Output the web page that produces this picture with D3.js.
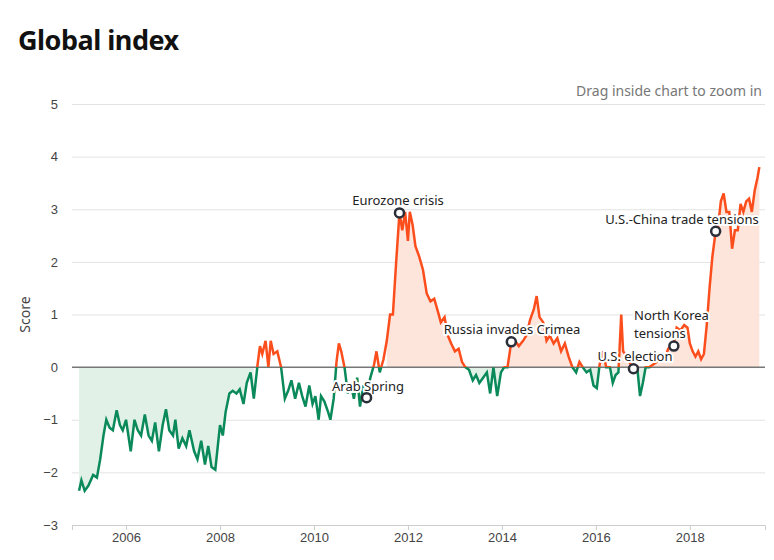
<!doctype html>
<html lang="en">
<head>
<meta charset="UTF-8">
<title>Global index</title>
<style>
  body { margin: 0; font-family: "Noto Sans", sans-serif; background: #fff; }
</style>
</head>
<body>
<div class="container"></div>
<script src="https://d3js.org/d3.v7.min.js"></script>
<script>
  const W = 774, H = 560;
  const M = { top: 104, right: 9, bottom: 35, left: 72 };

  // [year, score]
  const data = [
    [2005.0,-2.35],[2005.05,-2.15],[2005.12,-2.35],[2005.2,-2.25],[2005.3,-2.05],[2005.38,-2.1],[2005.45,-1.75],
    [2005.52,-1.3],[2005.58,-1.0],[2005.65,-1.15],[2005.72,-1.2],[2005.8,-0.82],[2005.87,-1.1],[2005.93,-1.2],
    [2006.0,-1.0],[2006.05,-1.3],[2006.1,-1.6],[2006.18,-1.0],[2006.25,-1.2],[2006.32,-1.3],[2006.4,-0.9],
    [2006.48,-1.3],[2006.55,-1.4],[2006.62,-1.05],[2006.7,-1.6],[2006.78,-1.1],[2006.85,-0.8],[2006.92,-1.2],
    [2007.0,-1.3],[2007.05,-1.0],[2007.12,-1.55],[2007.2,-1.35],[2007.28,-1.5],[2007.35,-1.2],[2007.45,-1.6],
    [2007.52,-1.75],[2007.6,-1.4],[2007.68,-1.85],[2007.75,-1.5],[2007.82,-1.9],[2007.9,-1.95],[2008.0,-1.1],
    [2008.06,-1.3],[2008.12,-0.85],[2008.2,-0.5],[2008.27,-0.45],[2008.35,-0.5],[2008.42,-0.42],[2008.5,-0.7],
    [2008.57,-0.3],[2008.65,-0.1],[2008.72,-0.6],[2008.8,0.05],[2008.85,0.4],[2008.9,0.25],[2008.97,0.5],
    [2009.03,0.0],[2009.08,0.5],[2009.14,0.25],[2009.22,0.3],[2009.3,0.0],[2009.38,-0.6],[2009.45,-0.45],
    [2009.52,-0.25],[2009.6,-0.6],[2009.68,-0.3],[2009.75,-0.55],[2009.82,-0.75],[2009.9,-0.35],[2009.97,-0.7],
    [2010.03,-0.55],[2010.1,-1.0],[2010.15,-0.55],[2010.22,-0.65],[2010.3,-0.85],[2010.35,-1.0],[2010.42,-0.6],
    [2010.48,0.1],[2010.53,0.45],[2010.58,0.3],[2010.65,0.0],[2010.72,-0.5],[2010.78,-0.3],[2010.85,-0.6],
    [2010.92,-0.2],[2010.98,-0.75],[2011.05,-0.35],[2011.12,-0.55],[2011.2,-0.2],[2011.28,0.05],[2011.33,0.3],
    [2011.4,-0.1],[2011.48,0.15],[2011.55,0.5],[2011.62,1.0],[2011.68,1.0],[2011.75,2.0],[2011.82,2.93],
    [2011.88,2.6],[2011.94,2.95],[2012.0,2.4],[2012.04,2.95],[2012.1,2.7],[2012.16,2.3],[2012.24,2.1],[2012.32,1.85],
    [2012.4,1.4],[2012.48,1.25],[2012.56,1.3],[2012.64,1.05],[2012.7,0.85],[2012.78,0.95],[2012.85,0.6],[2012.92,0.45],
    [2013.0,0.3],[2013.08,0.35],[2013.15,0.1],[2013.22,0.0],[2013.3,-0.05],[2013.38,-0.25],[2013.45,-0.15],
    [2013.52,-0.3],[2013.6,-0.2],[2013.68,-0.1],[2013.75,-0.5],[2013.82,0.0],[2013.9,-0.55],[2013.98,-0.1],
    [2014.05,0.0],[2014.12,0.0],[2014.2,0.48],[2014.28,0.5],[2014.36,0.4],[2014.45,0.5],[2014.52,0.6],
    [2014.6,0.9],[2014.68,1.1],[2014.74,1.35],[2014.8,0.95],[2014.88,0.85],[2014.95,0.5],[2015.02,0.6],
    [2015.1,0.45],[2015.18,0.55],[2015.26,0.3],[2015.34,0.45],[2015.42,0.2],[2015.5,0.0],[2015.58,-0.1],
    [2015.65,0.1],[2015.72,0.0],[2015.8,-0.1],[2015.88,-0.05],[2015.95,-0.35],[2016.02,-0.4],[2016.08,0.05],
    [2016.15,0.3],[2016.22,0.0],[2016.3,0.0],[2016.36,-0.3],[2016.42,-0.15],[2016.48,-0.1],[2016.54,1.0],
    [2016.58,0.3],[2016.66,0.2],[2016.74,0.05],[2016.8,-0.03],[2016.88,0.0],[2016.94,-0.55],[2017.0,-0.3],
    [2017.06,0.0],[2017.14,0.0],[2017.22,0.05],[2017.3,0.1],[2017.38,0.2],[2017.46,0.15],[2017.54,0.35],
    [2017.6,0.4],[2017.66,0.45],[2017.72,0.75],[2017.8,0.7],[2017.88,0.8],[2017.95,0.75],[2018.0,0.45],
    [2018.06,0.3],[2018.12,0.2],[2018.18,0.3],[2018.24,0.15],[2018.3,0.25],[2018.36,0.8],[2018.42,1.5],
    [2018.48,2.1],[2018.55,2.58],[2018.6,2.65],[2018.66,3.15],[2018.72,3.3],[2018.78,2.95],[2018.84,2.95],
    [2018.9,2.25],[2018.96,2.6],[2019.02,2.6],[2019.08,3.1],[2019.14,2.95],[2019.2,3.15],[2019.26,3.2],
    [2019.32,2.95],[2019.38,3.35],[2019.44,3.6],[2019.48,3.8]
  ];

  const events = [
    { t: 2011.82, v: 2.93, label: ['Eurozone crisis'], lx: 398, ly: 205, anchor: 'middle' },
    { t: 2011.12, v: -0.58, label: ['Arab Spring'], lx: 368, ly: 391, anchor: 'middle' },
    { t: 2014.2, v: 0.48, label: ['Russia invades Crimea'], lx: 512, ly: 334, anchor: 'middle' },
    { t: 2016.8, v: -0.03, label: ['U.S. election'], lx: 635, ly: 361, anchor: 'middle' },
    { t: 2017.66, v: 0.4, label: ['North Korea', 'tensions'], lx: 634, ly: 320, anchor: 'start' },
    { t: 2018.55, v: 2.58, label: ['U.S.-China trade tensions'], lx: 682, ly: 224, anchor: 'middle' }
  ];

  // shaded periods
  const shaded = [[2005.0, 2008.78], [2011.55, 2019.48]];

  const RED = '#fc4e1c', GREEN = '#0a8a5a';

  const svg = d3.select('.container').append('svg').attr('width', W).attr('height', H);

  const x = d3.scaleLinear().domain([2004.85, 2019.6]).range([M.left, W - M.right]);
  const y = d3.scaleLinear().domain([-3, 5]).range([H - M.bottom, M.top]);

  svg.append('text').attr('x', 18).attr('y', 50).text('Global index')
    .style('font-size', '27px').style('font-weight', 'bold').style('letter-spacing', '-0.5px').attr('fill', '#111');
  svg.append('text').attr('x', W - 12).attr('y', 96).attr('text-anchor', 'end')
    .text('Drag inside chart to zoom in').style('font-size', '14px').attr('fill', '#777');

  // grid + y axis
  const yAxis = svg.append('g').attr('transform', `translate(${M.left},0)`)
    .call(d3.axisLeft(y).ticks(8).tickSize(-(W - M.right - M.left)).tickPadding(14));
  yAxis.select('.domain').remove();
  yAxis.selectAll('line').attr('stroke', '#e3e3e3');
  yAxis.selectAll('text').style('font-size', '13px').attr('fill', '#444');

  const xAxis = svg.append('g').attr('transform', `translate(0,${H - M.bottom})`)
    .call(d3.axisBottom(x).tickValues([2006, 2008, 2010, 2012, 2014, 2016, 2018]).tickFormat(d3.format('d')).tickSize(5));
  xAxis.select('.domain').attr('stroke', '#ccc');
  xAxis.selectAll('line').attr('stroke', '#ccc');
  xAxis.selectAll('text').style('font-size', '13px').attr('fill', '#444');

  svg.append('text').attr('transform', `translate(30,${y(1)}) rotate(-90)`).attr('text-anchor', 'middle')
    .text('Score').style('font-size', '14px').attr('fill', '#444');

  // clips for sign
  const defs = svg.append('defs');
  defs.append('clipPath').attr('id', 'pos').append('rect')
    .attr('x', 0).attr('y', 0).attr('width', W).attr('height', y(0));
  defs.append('clipPath').attr('id', 'neg').append('rect')
    .attr('x', 0).attr('y', y(0)).attr('width', W).attr('height', H - y(0));

  const area = d3.area().x(d => x(d[0])).y0(y(0)).y1(d => y(d[1]));
  shaded.forEach(([a, b]) => {
    const seg = data.filter(d => d[0] >= a && d[0] <= b);
    svg.append('path').datum(seg).attr('d', area).attr('fill', '#fde5dc').attr('clip-path', 'url(#pos)');
    svg.append('path').datum(seg).attr('d', area).attr('fill', '#e2f1e8').attr('clip-path', 'url(#neg)');
  });

  svg.append('line').attr('x1', M.left).attr('x2', W - M.right).attr('y1', y(0)).attr('y2', y(0))
    .attr('stroke', '#777').attr('stroke-width', 1.5);

  const line = d3.line().x(d => x(d[0])).y(d => y(d[1]));
  svg.append('path').datum(data).attr('d', line).attr('fill', 'none').attr('stroke', RED)
    .attr('stroke-width', 2.5).attr('clip-path', 'url(#pos)');
  svg.append('path').datum(data).attr('d', line).attr('fill', 'none').attr('stroke', GREEN)
    .attr('stroke-width', 2.5).attr('clip-path', 'url(#neg)');

  // annotations
  const ev = svg.append('g');
  ev.selectAll('circle').data(events).enter().append('circle')
    .attr('cx', d => x(d.t)).attr('cy', d => y(d.v)).attr('r', 4.5)
    .attr('fill', '#fff').attr('stroke', '#2b2f3a').attr('stroke-width', 2.5);
  events.forEach(d => {
    d.label.forEach((s, i) => {
      const t = ev.append('text').attr('x', d.lx).attr('y', d.ly + i * 18).attr('text-anchor', d.anchor)
        .text(s).style('font-size', '13px');
      t.clone(false).text(s).lower()
        .attr('fill', 'none').attr('stroke', '#fff').attr('stroke-width', 4).attr('stroke-linejoin', 'round');
      t.attr('fill', '#222');
    });
  });
</script>
</body>
</html>
